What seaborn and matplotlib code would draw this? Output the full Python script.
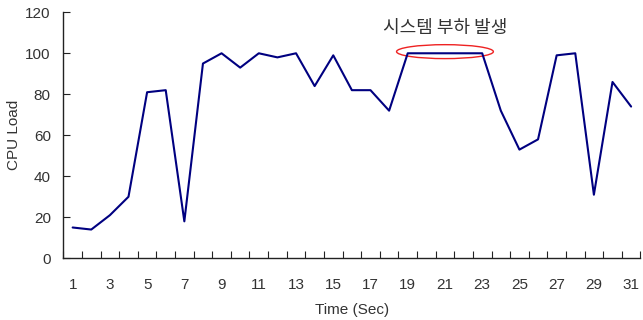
import numpy as np
import pandas as pd
import matplotlib
matplotlib.use("Agg")
import matplotlib.pyplot as plt
from matplotlib.patches import Ellipse
import seaborn as sns

# CPU load sampled once per second
time_sec = list(range(1, 32))
cpu_load = [15, 14, 21, 30, 81, 82, 18, 95, 100, 93, 100, 98, 100, 84, 99,
            82, 82, 72, 100, 100, 100, 100, 100, 72, 53, 58, 99, 100, 31, 86, 74]
x_tick_labels = [str(t) for t in time_sec if t % 2 == 1]
y_ticks = [0, 20, 40, 60, 80, 100, 120]
annotation = "시스템 부하 발생"

df = pd.DataFrame({"Time (Sec)": time_sec, "CPU Load": cpu_load})

sns.set_style("ticks")
plt.rcParams["font.family"] = ["Liberation Sans", "Noto Sans CJK KR"]

fig = plt.figure(figsize=(6.43, 3.2), dpi=100)
ax = fig.add_axes([0.0985, 0.193, 0.8975, 0.7686])

sns.lineplot(data=df, x="Time (Sec)", y="CPU Load", ax=ax,
             color="#000080", linewidth=1.5)

ax.set_xlim(0.5, 31.5)
ax.set_ylim(0, 120)

# tick marks between categories, labels on odd seconds
ax.set_xticks(np.arange(0.5, 32, 1.0))
ax.set_xticklabels([])
ax.set_xticks([t for t in time_sec if t % 2 == 1], minor=True)
ax.set_xticklabels(x_tick_labels, minor=True)
ax.tick_params(axis="x", which="major", direction="in", length=5, width=0.8,
               color="#222222")
ax.tick_params(axis="x", which="minor", length=0, pad=14, labelsize=11,
               labelcolor="#333333")

ax.set_yticks(y_ticks)
ax.tick_params(axis="y", direction="in", length=5, width=0.8, pad=9,
               labelsize=11, labelcolor="#333333", color="#222222")

for side in ["top", "right"]:
    ax.spines[side].set_visible(False)
for side in ["left", "bottom"]:
    ax.spines[side].set_linewidth(1.0)
    ax.spines[side].set_color("#222222")

ax.set_xlabel("Time (Sec)", fontsize=11, color="#333333")
ax.set_ylabel("CPU Load", fontsize=11, color="#333333")
ax.xaxis.set_label_coords(0.5, -0.183)
ax.yaxis.set_label_coords(-0.074, 0.5)

# highlight the sustained full-load period
ax.add_patch(Ellipse((21.0, 100.8), width=5.2, height=6.8, fill=False,
                     edgecolor="#ee2222", linewidth=1.0))
ax.text(21.0, 112.3, annotation, ha="center", va="center", fontsize=13,
        color="#333333", family=["Noto Sans CJK KR", "DejaVu Sans"])

fig.savefig("out.png", dpi=100)
